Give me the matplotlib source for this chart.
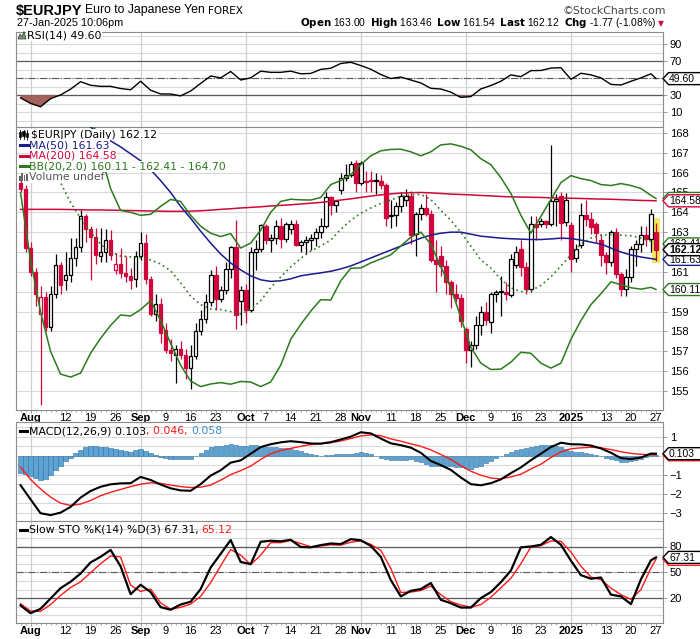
import pandas as pd
import matplotlib
matplotlib.use("Agg")
import matplotlib.pyplot as plt
from matplotlib.patches import Rectangle, Polygon
from matplotlib.lines import Line2D

plt.rcParams['font.family'] = ['DejaVu Sans']

# ---------------- data ----------------
# trading days shown: Jul 30 2024 .. Jan 27 2025 (no bars for Dec 25 / Jan 1)
dates = [d for d in pd.bdate_range("2024-07-30", "2025-01-27")
         if d.strftime("%m-%d") not in ("12-25", "01-01")]

open_ = [165.5, 165.2, 162.2, 161.0, 158.9, 159.75, 158.2, 159.9, 161.35, 160.6,
         160.85, 161.7, 162.25, 163.8, 163.15, 162.75, 161.8, 162.0, 162.6, 161.1,
         161.4, 160.95, 160.8, 160.65, 161.8, 162.45, 160.65, 158.9, 159.4, 158.05,
         157.07, 156.8, 157.1, 156.8, 156.15, 156.75, 158.0, 158.64, 159.48, 160.85,
         159.65, 160.07, 161.16, 162.25, 159.55, 160.1, 159.1, 162.0, 162.13, 163.3,
         162.62, 162.7, 163.3, 162.67, 163.18, 163.39, 162.34, 162.5, 162.62, 162.72,
         163.0, 163.29, 164.77, 164.35, 165.13, 165.72, 165.88, 166.5, 165.5, 165.55,
         165.6, 165.58, 165.6, 165.4, 163.8, 163.85, 164.3, 164.6, 164.8, 162.9,
         163.9, 164.2, 163.9, 161.6, 161.8, 161.3, 160.5, 159.9, 159.7, 158.1,
         157.04, 157.3, 158.3, 159.0, 158.47, 159.9, 160.0, 160.0, 159.85, 161.36,
         162.17, 161.24, 160.15, 163.43, 163.43, 163.55, 163.43, 164.55, 164.8, 163.5,
         163.34, 161.7, 162.37, 163.85, 163.68, 163.43, 162.59, 161.87, 161.5, 163.0,
         160.9, 160.15, 160.74, 162.17, 162.42, 162.87, 162.67, 163.0]
high = [165.8, 165.4, 162.5, 161.2, 160.3, 160.0, 160.3, 161.9, 161.5, 162.0,
        162.7, 162.7, 164.1, 163.9, 163.3, 163.2, 163.2, 163.15, 163.1, 161.95,
        162.2, 161.8, 161.2, 162.05, 163.0, 162.9, 160.8, 159.9, 159.7, 158.4,
        157.6, 157.3, 157.5, 157.1, 157.3, 158.4, 159.1, 159.9, 161.1, 161.3,
        160.3, 161.5, 162.3, 163.6, 160.3, 160.4, 162.25, 162.6, 163.4, 163.4,
        162.9, 163.6, 163.72, 163.5, 163.6, 163.6, 162.6, 162.8, 162.9, 163.2,
        163.7, 165.0, 164.8, 164.6, 166.0, 166.45, 166.6, 166.65, 166.6, 166.1,
        166.1, 166.0, 165.9, 165.5, 164.6, 164.5, 165.0, 165.2, 165.1, 164.0,
        164.4, 164.9, 164.1, 162.6, 162.3, 161.6, 160.6, 160.4, 159.9, 158.2,
        157.5, 158.8, 159.3, 159.5, 160.0, 160.1, 160.8, 160.5, 161.9, 162.3,
        162.6, 161.5, 163.8, 163.8, 163.7, 163.6, 167.4, 164.9, 165.0, 164.95,
        163.5, 162.4, 164.45, 164.6, 164.0, 163.5, 162.9, 162.0, 163.1, 163.2,
        161.0, 161.15, 162.3, 162.6, 163.3, 163.3, 164.18, 163.46]
low = [165.0, 162.0, 160.8, 159.3, 154.3, 158.0, 158.0, 159.7, 159.9, 160.1,
       160.5, 161.3, 162.0, 162.5, 160.6, 161.4, 161.5, 161.5, 161.6, 160.9,
       160.7, 160.5, 160.15, 160.25, 161.6, 160.4, 158.8, 158.5, 157.4, 156.9,
       156.5, 155.4, 156.6, 155.6, 155.1, 156.6, 157.8, 158.4, 159.3, 159.1,
       159.5, 159.9, 160.7, 158.1, 158.3, 158.4, 159.0, 161.1, 162.0, 162.4,
       162.0, 162.4, 162.2, 162.5, 162.9, 162.3, 162.0, 161.9, 162.08, 162.3,
       162.7, 163.2, 163.85, 164.0, 164.9, 165.6, 165.8, 165.0, 165.4, 165.0,
       165.0, 164.9, 165.2, 163.3, 163.2, 163.3, 164.0, 164.3, 162.4, 161.8,
       163.6, 163.8, 161.5, 160.0, 160.8, 159.9, 159.2, 159.5, 158.2, 156.4,
       156.2, 157.1, 157.8, 158.3, 157.9, 159.5, 158.8, 159.6, 159.75, 161.2,
       160.8, 159.9, 160.0, 162.6, 163.26, 163.2, 163.3, 163.3, 162.6, 163.3,
       161.0, 161.5, 162.2, 163.3, 162.9, 162.5, 161.3, 160.9, 161.3, 160.7,
       159.8, 159.8, 160.5, 161.3, 162.0, 162.3, 162.0, 161.54]
close = [165.2, 162.2, 161.0, 159.9, 159.75, 158.2, 159.9, 161.35, 160.35, 160.85,
         161.7, 162.25, 163.8, 163.15, 162.75, 161.85, 162.0, 162.6, 161.85, 161.4,
         160.95, 160.8, 160.6, 161.8, 162.45, 160.65, 158.9, 159.4, 157.9, 157.07,
         156.9, 157.1, 156.8, 156.15, 156.75, 158.0, 158.64, 159.48, 160.82, 159.65,
         160.07, 161.16, 162.25, 158.85, 160.1, 159.1, 162.0, 162.13, 163.38, 162.62,
         162.71, 163.3, 162.67, 163.39, 163.39, 162.34, 162.5, 162.62, 162.72, 163.0,
         163.29, 164.77, 164.35, 164.55, 165.72, 165.88, 166.45, 165.5, 166.5, 165.6,
         165.58, 165.6, 165.4, 163.7, 163.85, 164.3, 164.8, 164.8, 162.86, 163.9,
         164.2, 163.9, 161.6, 161.4, 161.3, 160.5, 159.9, 159.7, 158.5, 157.04,
         157.3, 158.3, 159.0, 158.6, 159.9, 160.0, 160.02, 159.9, 161.66, 162.0,
         161.24, 160.15, 163.43, 163.26, 163.55, 163.43, 164.55, 164.65, 163.48, 164.6,
         161.66, 162.17, 163.85, 163.68, 163.26, 162.97, 161.83, 161.5, 163.0, 160.9,
         160.15, 160.74, 162.17, 162.42, 162.87, 162.67, 163.93, 162.12]

# indicator lines, read every second trading day (plus the last day)
line_days = list(range(0, 127, 2)) + [127]

ma50 = [170.4, 170.2, 170.0, 169.65, 169.3, 169.0, 168.7, 168.3, 167.9, 167.6,
        167.3, 166.95, 166.6, 166.15, 165.6, 165.0, 164.3, 163.7, 163.05, 162.45,
        161.9, 161.45, 161.1, 160.8, 160.6, 160.52, 160.55, 160.65, 160.8, 160.88,
        160.95, 161.03, 161.15, 161.3, 161.5, 161.7, 161.9, 162.1, 162.3, 162.5,
        162.7, 162.85, 162.95, 163.0, 163.0, 162.9, 162.8, 162.75, 162.7, 162.67,
        162.65, 162.63, 162.63, 162.66, 162.7, 162.68, 162.6, 162.5, 162.4, 162.2,
        162.0, 161.85, 161.75, 161.67, 161.63]
ma200 = [164.15, 164.15, 164.15, 164.15, 164.15, 164.14, 164.13, 164.12, 164.12, 164.11,
         164.1, 164.09, 164.08, 164.07, 164.06, 164.05, 164.05, 164.06, 164.08, 164.11,
         164.15, 164.18, 164.22, 164.25, 164.28, 164.32, 164.35, 164.38, 164.42, 164.46,
         164.5, 164.56, 164.62, 164.68, 164.75, 164.82, 164.88, 164.93, 164.97, 164.99,
         165.0, 164.98, 164.95, 164.92, 164.9, 164.88, 164.85, 164.83, 164.8, 164.78,
         164.77, 164.76, 164.75, 164.73, 164.72, 164.71, 164.7, 164.68, 164.67, 164.66,
         164.64, 164.62, 164.6, 164.59, 164.58]
bb_upper = [171.0, 173.4, 174.6, 175.3, 174.9, 173.3, 171.1, 169.1, 167.0, 165.2,
            164.1, 164.0, 163.85, 163.9, 164.3, 164.65, 164.55, 163.85, 163.3, 162.95,
            162.78, 162.93, 162.2, 162.45, 163.1, 164.0, 164.55, 164.66, 164.63, 164.62,
            164.75, 165.4, 165.6, 165.9, 166.4, 166.85, 167.1, 167.17, 167.18, 167.05,
            166.85, 167.05, 167.4, 167.45, 167.33, 167.15, 166.7, 166.4, 165.75, 164.95,
            163.85, 162.95, 163.8, 164.65, 165.5, 165.85, 165.7, 165.6, 165.4, 165.35,
            165.45, 165.35, 165.2, 164.85, 164.70]
bb_mid = [168.0, 167.5, 166.8, 166.2, 165.5, 164.5, 163.7, 163.0, 162.4, 162.0,
          161.8, 161.76, 161.72, 161.6, 161.4, 161.05, 160.45, 159.78, 159.35, 159.13,
          159.1, 159.0, 158.88, 159.1, 159.55, 160.2, 160.75, 161.25, 161.68, 162.05,
          162.3, 162.6, 163.15, 163.6, 163.95, 164.22, 164.45, 164.62, 164.8, 164.88,
          164.9, 164.65, 164.1, 163.6, 163.0, 162.3, 161.6, 161.2, 160.62, 160.2,
          160.0, 160.05, 160.32, 160.75, 161.3, 161.85, 162.4, 162.7, 162.85, 162.88,
          162.85, 162.82, 162.7, 162.55, 162.41]
bb_lower = [165.0, 161.6, 159.0, 157.0, 155.85, 155.7, 155.9, 156.9, 157.65, 158.3,
            158.83, 158.78, 159.1, 159.55, 158.55, 157.4, 156.3, 155.5, 155.22, 155.35,
            155.42, 155.34, 155.48, 155.45, 155.22, 155.45, 156.3, 157.6, 158.35, 159.02,
            159.6, 159.58, 160.55, 161.18, 161.2, 161.45, 161.65, 161.86, 162.3, 162.75,
            163.0, 162.4, 161.25, 160.2, 158.7, 157.2, 156.4, 156.08, 156.1, 156.45,
            156.95, 156.9, 156.4, 156.15, 156.4, 157.6, 158.55, 159.35, 159.9, 160.5,
            160.35, 160.2, 160.13, 160.22, 160.11]
rsi = [27.0, 20.5, 16.5, 26.0, 30.4, 37.2, 46.0, 41.8, 40.5, 40.5,
       38.0, 36.5, 46.5, 36.0, 31.6, 31.5, 29.3, 35.0, 44.0, 52.7,
       50.5, 58.0, 48.0, 50.5, 58.4, 57.0, 57.0, 58.4, 55.3, 55.7,
       60.5, 61.8, 67.4, 68.8, 65.0, 60.6, 54.5, 49.7, 51.5, 48.0,
       44.5, 38.2, 37.4, 33.7, 27.5, 28.5, 37.5, 41.5, 46.5, 54.0,
       51.9, 59.0, 59.2, 62.0, 62.4, 48.8, 55.9, 54.0, 50.5, 42.8,
       42.1, 46.5, 50.5, 55.3, 49.6]
macd = [-1.55, -2.3, -3.03, -3.13, -3.0, -2.7, -2.21, -1.86, -1.64, -1.51,
        -1.46, -1.45, -1.12, -1.28, -1.52, -1.72, -1.83, -1.85, -1.5, -1.05,
        -0.77, -0.37, -0.25, 0.1, 0.45, 0.6, 0.70, 0.76, 0.71, 0.64,
        0.63, 0.71, 0.85, 1.0, 1.23, 1.17, 0.9, 0.65, 0.55, 0.42,
        0.15, -0.28, -0.5, -0.75, -1.15, -1.5, -1.56, -1.45, -1.25, -0.92,
        -0.62, -0.24, 0.1, 0.45, 0.68, 0.6, 0.59, 0.53, 0.38, 0.15,
        -0.13, -0.18, -0.1, 0.11, 0.103]
macd_signal = [-0.6, -1.25, -1.75, -2.18, -2.5, -2.62, -2.55, -2.36, -2.11, -1.93,
               -1.78, -1.63, -1.5, -1.43, -1.46, -1.55, -1.63, -1.68, -1.66, -1.55,
               -1.29, -1.0, -0.79, -0.55, -0.2, 0.1, 0.27, 0.38, 0.49, 0.58,
               0.63, 0.68, 0.77, 0.9, 1.04, 1.09, 1.05, 0.88, 0.76, 0.62,
               0.49, 0.3, 0.06, -0.2, -0.53, -0.82, -1.03, -1.18, -1.22, -1.12,
               -0.98, -0.7, -0.45, -0.1, 0.2, 0.36, 0.41, 0.44, 0.41, 0.32,
               0.2, 0.12, 0.07, 0.05, 0.046]
stoch_k = [11.5, 2.5, 7.5, 19.5, 31.5, 39.0, 48.5, 61.5, 68.0, 76.0,
           57.0, 24.5, 35.5, 27.0, 9.5, 6.5, 12.5, 15.8, 30.5, 55.5,
           71.5, 87.5, 62.0, 59.5, 85.5, 86.7, 86.0, 87.8, 79.5, 79.0,
           81.6, 83.5, 82.8, 88.5, 87.2, 80.8, 68.0, 41.0, 22.0, 28.5,
           30.5, 37.5, 18.0, 14.0, 9.0, 9.0, 20.0, 27.0, 38.5, 52.0,
           79.0, 80.0, 82.0, 91.0, 82.0, 63.5, 46.7, 42.5, 44.0, 24.0,
           22.0, 13.0, 42.0, 64.0, 67.31]
stoch_d = [13.5, 5.0, 4.5, 12.5, 23.0, 32.3, 39.0, 49.5, 60.0, 69.0,
           67.8, 35.0, 27.8, 30.5, 14.5, 7.0, 9.3, 13.0, 22.0, 38.0,
           57.5, 76.5, 70.0, 59.0, 70.0, 84.5, 84.5, 87.0, 83.5, 79.7,
           80.7, 82.0, 81.6, 85.0, 86.5, 82.5, 75.5, 54.5, 26.5, 27.0,
           28.8, 34.0, 24.0, 15.8, 12.0, 9.3, 12.5, 21.0, 32.0, 43.0,
           60.0, 79.5, 81.0, 86.5, 86.0, 73.5, 57.0, 44.5, 41.5, 31.5,
           24.0, 18.5, 30.0, 55.0, 65.12]
# MACD histogram, one bar per trading day
macd_hist = [-0.90, -0.98, -1.05, -1.20, -1.28, -1.22, -1.00, -0.78, -0.52, -0.30,
             -0.10, 0.12, 0.32, 0.44, 0.50, 0.49, 0.47, 0.45, 0.42, 0.37,
             0.32, 0.26, 0.20, 0.30, 0.36, 0.25, 0.14, 0.04, -0.06, -0.12,
             -0.17, -0.19, -0.20, -0.19, -0.16, 0.00, 0.15, 0.32, 0.48, 0.50,
             0.52, 0.58, 0.60, 0.56, 0.50, 0.52, 0.54, 0.54, 0.52, 0.48,
             0.45, 0.44, 0.42, 0.40, 0.37, 0.30, 0.22, 0.14, 0.06, 0.02,
             0.00, 0.02, 0.04, 0.06, 0.08, 0.09, 0.10, 0.14, 0.18, 0.13,
             0.07, -0.04, -0.14, -0.20, -0.23, -0.22, -0.21, -0.21, -0.20, -0.26,
             -0.34, -0.46, -0.56, -0.57, -0.56, -0.55, -0.55, -0.58, -0.62, -0.66,
             -0.68, -0.62, -0.53, -0.40, -0.27, -0.15, -0.03, 0.10, 0.20, 0.28,
             0.36, 0.40, 0.46, 0.50, 0.55, 0.56, 0.55, 0.52, 0.46, 0.36,
             0.24, 0.21, 0.18, 0.13, 0.09, 0.03, -0.03, -0.10, -0.17, -0.25,
             -0.33, -0.32, -0.30, -0.24, -0.17, -0.06, 0.03, 0.058]

tick_dates = ["2024-08-01", "2024-08-12", "2024-08-19", "2024-08-26", "2024-09-02",
              "2024-09-09", "2024-09-16", "2024-09-23", "2024-10-01", "2024-10-07",
              "2024-10-14", "2024-10-21", "2024-10-28", "2024-11-01", "2024-11-11",
              "2024-11-18", "2024-11-25", "2024-12-02", "2024-12-09", "2024-12-16",
              "2024-12-23", "2025-01-02", "2025-01-13", "2025-01-20", "2025-01-27"]
tick_labels = ["Aug", "12", "19", "26", "Sep", "9", "16", "23", "Oct", "7", "14", "21",
               "28", "Nov", "11", "18", "25", "Dec", "9", "16", "23", "2025", "13", "20", "27"]
month_labels = ["Aug", "Sep", "Oct", "Nov", "Dec", "2025"]

# ---------------- layout ----------------
W, H = 700, 639
fig = plt.figure(figsize=(W / 100, H / 100), dpi=100)
fig.patch.set_facecolor("white")

LEFT, RIGHT = 16, 662.7
n = len(dates)
day_pos = {d.strftime("%Y-%m-%d"): i for i, d in enumerate(dates)}
tick_pos = [day_pos[d] for d in tick_dates]
month_pos = [p for p, l in zip(tick_pos, tick_labels) if l in month_labels]

GRID = "#d9d9d9"
FRAME = "#8c8c8c"
RED = "#d1063c"
GREEN = "#2b7a1d"
NAVY = "#1b1b8f"

def fx(px):
    return px / W

def fy(py):
    return 1 - py / H

panels = {}

def make_panel(top, bottom, ylo, yhi, grid_vals, yticks, show_dates):
    ax = fig.add_axes([fx(LEFT), fy(bottom), (RIGHT - LEFT) / W, (bottom - top) / H])
    panels[ax] = (top, bottom, ylo, yhi)
    ax.set_xlim(-0.9, 128.34)
    ax.set_ylim(ylo, yhi)
    for s in ax.spines.values():
        s.set_color(FRAME)
        s.set_linewidth(0.8)
    for g in grid_vals:
        ax.axhline(g, color=GRID, lw=0.8, zorder=0)
    for m in month_pos:
        ax.axvline(m, color="#cfcfcf", lw=0.9, zorder=0)
    ax.yaxis.tick_right()
    ax.set_yticks(yticks)
    ax.tick_params(axis="y", length=3, width=0.6, color=FRAME, pad=2,
                   labelsize=8, labelfontfamily="Liberation Sans")
    ax.set_xticks(range(n), minor=True)
    ax.set_xticks(tick_pos)
    ax.tick_params(axis="x", which="minor", length=1.5, width=0.5, color=FRAME)
    ax.tick_params(axis="x", which="major", length=2, width=0.6, color=FRAME, pad=0.5,
                   labelsize=8, labelfontfamily="Liberation Sans")
    if show_dates:
        ax.set_xticklabels(tick_labels)
        for t in ax.get_xticklabels():
            if t.get_text() in month_labels:
                t.set_fontweight("bold")
    else:
        ax.set_xticklabels([])
    return ax

def val_to_py(ax, v):
    top, bottom, ylo, yhi = panels[ax]
    return top + (yhi - v) / (yhi - ylo) * (bottom - top)

zorder_counter = [20]

def tag(ax, v, label, color, bold=False):
    y = val_to_py(ax, v)
    h = 6
    pts = [(663, y), (668.5, y - h), (702, y - h), (702, y + h), (668.5, y + h)]
    z = zorder_counter[0]
    zorder_counter[0] += 2
    fig.add_artist(Polygon([(fx(a), fy(b)) for a, b in pts], closed=True,
                           transform=fig.transFigure, facecolor="white",
                           edgecolor=color, lw=1.0, zorder=z))
    fig.text(fx(669), fy(y + 0.5), label, fontsize=7.7 if bold else 7.5,
             fontweight="bold" if bold else "normal", family="Liberation Sans",
             va="center", ha="left", color="black", zorder=z + 1)

ax_rsi = make_panel(31.7, 127, -7.3, 104.8, range(0, 101, 10), [10, 30, 70, 90], False)
ax_main = make_panel(127, 410, 154.04, 168.30, range(154, 169), range(155, 169), True)
ax_macd = make_panel(422, 521, -3.44, 1.77, [x / 2 for x in range(-6, 4)], [-3, -2, -1, 0, 1], False)
ax_sto = make_panel(521, 623, -8.95, 109.65, range(0, 101, 10), [20, 50, 80], True)

# ---------------- RSI ----------------
ax_rsi.axhline(70, color="#5a5a5a", lw=0.9, zorder=1)
ax_rsi.axhline(30, color="#5a5a5a", lw=0.9, zorder=1)
ax_rsi.axhline(50, color="#5a5a5a", lw=0.8, ls="-.", zorder=1)
ax_rsi.fill_between(line_days, rsi, 30, where=[r < 30 for r in rsi], interpolate=True,
                    color="#a3625c", lw=0, zorder=2)
ax_rsi.plot(line_days, rsi, color="black", lw=1.0, zorder=3)

# ---------------- price panel ----------------
ax_main.add_patch(Rectangle((n - 1 - 0.8, low[-1] - 0.1), 1.6, high[-1] - low[-1] + 0.35,
                            facecolor="#f3ea5b", edgecolor="none", zorder=1))
for i in range(n):
    o, h_, l_, c = open_[i], high[i], low[i], close[i]
    prev = close[i - 1] if i > 0 else o
    edge = RED if c < prev else "black"
    face = "white" if c >= o else edge
    ax_main.vlines(i, l_, h_, color=edge, lw=0.9, zorder=2)
    body = max(abs(c - o), 0.03)
    ax_main.add_patch(Rectangle((i - 0.37, min(o, c)), 0.74, body, facecolor=face,
                                edgecolor=edge, lw=0.9, zorder=3))

ax_main.plot(line_days, ma200, color=RED, lw=1.1, zorder=4)
ax_main.plot(line_days, ma50, color=NAVY, lw=1.1, zorder=4)
ax_main.plot(line_days, bb_upper, color=GREEN, lw=1.1, zorder=4)
ax_main.plot(line_days, bb_lower, color=GREEN, lw=1.1, zorder=4)
ax_main.plot(line_days, bb_mid, color=GREEN, lw=1.2, ls=(0, (1, 2)), zorder=4)

# ---------------- MACD ----------------
ax_macd.bar(range(n), macd_hist, width=0.85, color="#5da3d3", edgecolor="#2f6f9f",
            lw=0.4, zorder=2)
ax_macd.plot(line_days, macd_signal, color="#ff1a1a", lw=1.0, zorder=3)
ax_macd.plot(line_days, macd, color="black", lw=1.5, zorder=4)

# ---------------- Slow stochastics ----------------
ax_sto.axhline(80, color="#5a5a5a", lw=0.9, zorder=1)
ax_sto.axhline(20, color="#5a5a5a", lw=0.9, zorder=1)
ax_sto.axhline(50, color="#5a5a5a", lw=0.8, ls="-.", zorder=1)
ax_sto.plot(line_days, stoch_d, color="#ff1a1a", lw=1.0, zorder=3)
ax_sto.plot(line_days, stoch_k, color="black", lw=1.6, zorder=4)

# ---------------- value tags on the right ----------------
tag(ax_rsi, rsi[-1], "49.60", "black")
tag(ax_main, bb_upper[-1], "164.70", GREEN)
tag(ax_main, ma200[-1], "164.58", RED)
tag(ax_main, bb_mid[-1], "162.41", GREEN)
tag(ax_main, ma50[-1], "161.63", NAVY)
tag(ax_main, bb_lower[-1], "160.11", GREEN)
tag(ax_main, close[-1], "162.12", "black", bold=True)
tag(ax_macd, macd_signal[-1], "0.046", "#ff1a1a")
tag(ax_macd, macd[-1], "0.103", "black")
tag(ax_sto, stoch_d[-1], "65.12", "#ff1a1a")
tag(ax_sto, stoch_k[-1], "67.31", "black")

# ---------------- header ----------------
renderer = fig.canvas.get_renderer()

def text_run(x_px, y_px, pieces, **kw):
    # pieces: (text, color, weight, size, family, gap_px)
    x = x_px
    for s, color, weight, size, family, gap in pieces:
        t = fig.text(fx(x), fy(y_px), s, color=color, fontweight=weight, fontsize=size,
                     family=family, va="center", ha="left", zorder=40, **kw)
        x += t.get_window_extent(renderer).width + gap
    return x

text_run(16, 10.5, [("\\$EURJPY", "black", "bold", 10.5, "Liberation Sans", 2.5),
                    ("Euro to Japanese Yen", "black", "normal", 8.8, "Liberation Sans", 3),
                    ("FOREX", "black", "normal", 7.5, "DejaVu Sans", 0)])
fig.text(fx(666), fy(10.5), "\u00a9StockCharts.com", fontsize=7.8, color="#444444",
         family="DejaVu Sans", ha="right", va="center")
fig.text(fx(17), fy(23), "27-Jan-2025 10:06pm", fontsize=7.8, family="Liberation Sans",
         ha="left", va="center")
fig.text(fx(656), fy(23),
         r"$\mathbf{Open}$ 163.00  $\mathbf{High}$ 163.46  $\mathbf{Low}$ 161.54  "
         r"$\mathbf{Last}$ 162.12  $\mathbf{Chg}$ -1.77 (-1.08%)",
         fontsize=7.4, family="Liberation Sans", ha="right", va="center")
fig.text(fx(664), fy(23.5), "\u25bc", fontsize=5.5, color=RED, ha="right", va="center")

# ---------------- panel legends ----------------
LEG = dict(family="DejaVu Sans", va="center", ha="left", fontsize=7.8, zorder=40,
           bbox=dict(facecolor="white", edgecolor="none", pad=0.6))

# RSI legend with little area icon
fig.add_artist(Polygon([(fx(a), fy(b)) for a, b in [(18, 39), (20, 34), (22, 36.5), (24, 31.5), (26, 39)]],
                       closed=True, transform=fig.transFigure, facecolor="#6f9f6f",
                       edgecolor="#333333", lw=0.5, zorder=41))
fig.text(fx(27), fy(35.5), "RSI(14) 49.60", **LEG)

# price legend
for cx, top, bot, btop, bbot in [(20, 130, 139, 132, 137), (23.5, 129.5, 139.5, 131, 136),
                                 (27, 130.5, 138.5, 132.5, 136.5)]:
    fig.add_artist(Line2D([fx(cx), fx(cx)], [fy(top), fy(bot)], color="black", lw=0.6,
                          transform=fig.transFigure, zorder=41))
    fig.add_artist(Rectangle((fx(cx - 1.2), fy(bbot)), 2.4 / W, (bbot - btop) / H,
                             transform=fig.transFigure, facecolor="black", edgecolor="black",
                             lw=0.4, zorder=42))
fig.text(fx(31), fy(134.5), "\\$EURJPY (Daily) 162.12", color="black", **LEG)
for y, label, color in [(145.2, "MA(50) 161.63", NAVY), (155.8, "MA(200) 164.58", RED),
                        (166.4, "BB(20,2.0) 160.11 - 162.41 - 164.70", GREEN)]:
    fig.text(fx(29), fy(y), label, color=color, **LEG)
    fig.add_artist(Line2D([fx(20), fx(27.5)], [fy(y), fy(y)], color=color, lw=2.2,
                          transform=fig.transFigure, zorder=41))
for k, hgt in enumerate([5, 8, 6, 7]):
    fig.add_artist(Rectangle((fx(19 + k * 2.3), fy(181)), 1.8 / W, hgt / H,
                             transform=fig.transFigure, facecolor="#666666",
                             edgecolor="none", zorder=41))
fig.text(fx(29), fy(177), "Volume undef", color="#555555", **LEG)

# MACD legend
fig.add_artist(Line2D([fx(20), fx(27)], [fy(431), fy(431)], color="black", lw=2.2,
                      transform=fig.transFigure, zorder=41))
text_run(29, 431, [("MACD(12,26,9) 0.103", "black", "normal", 7.8, "DejaVu Sans", 0),
                   (", 0.046,", "#ff1a1a", "normal", 7.8, "DejaVu Sans", 3),
                   ("0.058", "#3a8fd0", "normal", 7.8, "DejaVu Sans", 0)])

# Slow STO legend
fig.add_artist(Line2D([fx(20), fx(27)], [fy(530), fy(530)], color="black", lw=2.2,
                      transform=fig.transFigure, zorder=41))
text_run(29, 530, [("Slow STO %K(14) %D(3) 67.31,", "black", "normal", 7.8, "DejaVu Sans", 3),
                   ("65.12", "#ff1a1a", "normal", 7.8, "DejaVu Sans", 0)])

fig.savefig("out.png", dpi=100)
